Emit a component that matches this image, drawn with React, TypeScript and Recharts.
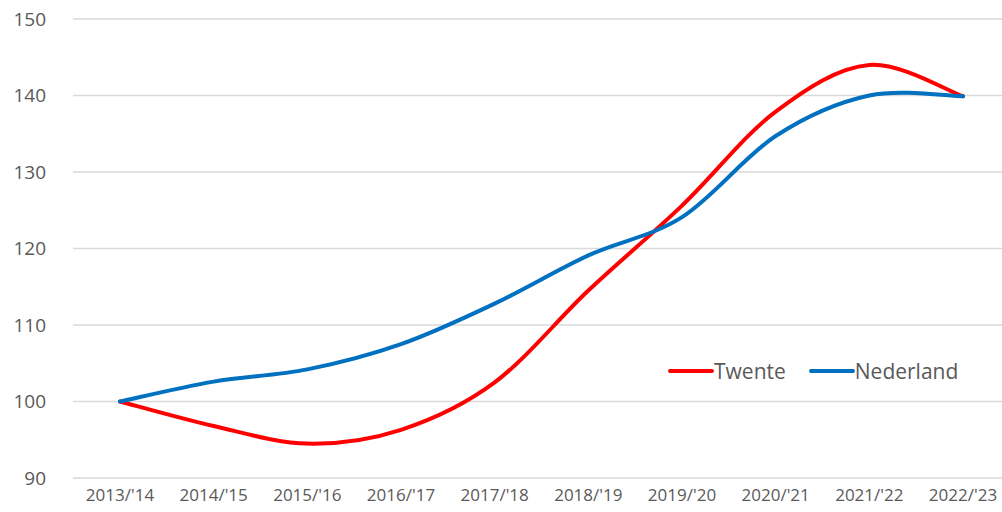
import React from 'react';
import { LineChart, Line, XAxis, YAxis, CartesianGrid } from 'recharts';

const categories = ["2013/'14", "2014/'15", "2015/'16", "2016/'17", "2017/'18", "2018/'19", "2019/'20", "2020/'21", "2021/'22", "2022/'23"];
const twente = [100, 96.8, 94.5, 96.3, 102.5, 114.5, 125.6, 137.9, 144.0, 139.9];
const nederland = [100, 102.6, 104.2, 107.5, 112.8, 119.1, 124.1, 134.7, 140.0, 139.9];
const yTicks = [90, 100, 110, 120, 130, 140, 150];
const seriesNames = ['Twente', 'Nederland'];
const seriesColors = ['#ff0000', '#0070c0'];

const data = categories.map((c, i) => ({ name: c, Twente: twente[i], Nederland: nederland[i] }));

// Excel-like smooth curve (Catmull-Rom style bezier)
const excelCurve = (context: any) => {
  let pts: number[][] = [];
  return {
    areaStart() {},
    areaEnd() {},
    lineStart() { pts = []; },
    point(x: number, y: number) { pts.push([+x, +y]); },
    lineEnd() {
      if (!pts.length) return;
      context.moveTo(pts[0][0], pts[0][1]);
      for (let i = 0; i < pts.length - 1; i++) {
        const p0 = pts[i - 1] || pts[i];
        const p1 = pts[i];
        const p2 = pts[i + 1];
        const p3 = pts[i + 2] || pts[i + 1];
        const c1x = p1[0] + (p2[0] - p0[0]) / 6;
        const c1y = p1[1] + (p2[1] - p0[1]) / 6;
        const c2x = p2[0] - (p3[0] - p1[0]) / 6;
        const c2y = p2[1] - (p3[1] - p1[1]) / 6;
        context.bezierCurveTo(c1x, c1y, c2x, c2y, p2[0], p2[1]);
      }
    },
  };
};

const FONT = "'Open Sans', Lato, sans-serif";
const TEXT = '#595959';

export default function App() {
  return (
    <div style={{ position: 'absolute', left: 0, top: 0, width: 1002, height: 512, overflow: 'hidden', background: '#fff' }}>
      <LineChart width={1010} height={512} data={data} margin={{ top: 19, right: 0, bottom: 0, left: 0 }}>
        <CartesianGrid vertical={false} stroke="#d9d9d9" strokeWidth={1.3} />
        <XAxis
          dataKey="name"
          axisLine={false}
          tickLine={false}
          tickSize={0}
          tickMargin={11}
          height={34}
          padding={{ left: 47, right: 47 }}
          interval={0}
          tick={{ fill: TEXT, fontSize: 17, fontFamily: FONT }}
        />
        <YAxis
          domain={[90, 150]}
          ticks={yTicks}
          axisLine={false}
          tickLine={false}
          tickSize={0}
          tickMargin={27}
          width={73}
          tick={{ fill: TEXT, fontSize: 19, fontFamily: FONT }}
        />
        <Line dataKey="Twente" type={excelCurve as any} stroke={seriesColors[0]} strokeWidth={4} dot={false} isAnimationActive={false} strokeLinecap="round" />
        <Line dataKey="Nederland" type={excelCurve as any} stroke={seriesColors[1]} strokeWidth={4} dot={false} isAnimationActive={false} strokeLinecap="round" />
      </LineChart>
      <div style={{ position: 'absolute', left: 667, top: 357, display: 'flex', alignItems: 'center', fontFamily: FONT, fontSize: 21, color: TEXT, lineHeight: '28px' }}>
        {seriesNames.map((n, i) => (
          <React.Fragment key={n}>
            <svg width={47} height={10}><line x1={3} y1={5} x2={45} y2={5} stroke={seriesColors[i]} strokeWidth={4} strokeLinecap="round" /></svg>
            <span style={{ marginRight: i === 0 ? 22 : 0 }}>{n}</span>
          </React.Fragment>
        ))}
      </div>
    </div>
  );
}
